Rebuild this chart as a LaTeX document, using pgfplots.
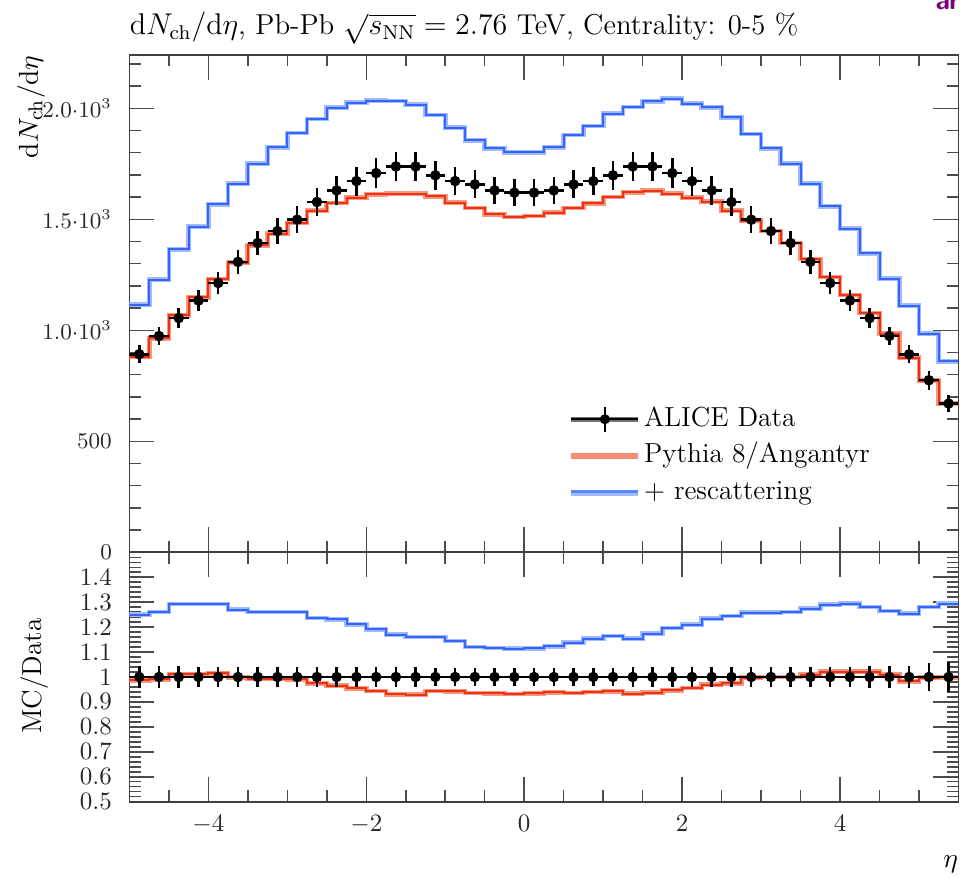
\documentclass[border=0pt]{standalone}
\usepackage{pgfplots}
\pgfplotsset{compat=1.18}
\usepackage{pgfplotstable}
\definecolor{mcred}{RGB}{238,51,17}
\definecolor{mcredlt}{RGB}{246,150,128}
\definecolor{mcblue}{RGB}{51,102,255}
\definecolor{mcbluelt}{RGB}{160,185,255}
\definecolor{arxivpurple}{RGB}{120,0,130}

\pgfplotstableread{
x y ex ey one re
-4.875 892 0.125 40 1 0.045
-4.625 974 0.125 42 1 0.043
-4.375 1055 0.125 45 1 0.043
-4.125 1134 0.125 48 1 0.042
-3.875 1213 0.125 50 1 0.041
-3.625 1308 0.125 53 1 0.041
-3.375 1393 0.125 56 1 0.040
-3.125 1447 0.125 58 1 0.040
-2.875 1498 0.125 60 1 0.040
-2.625 1578 0.125 62 1 0.039
-2.375 1630 0.125 64 1 0.039
-2.125 1672 0.125 65 1 0.039
-1.875 1708 0.125 66 1 0.039
-1.625 1738 0.125 67 1 0.039
-1.375 1738 0.125 67 1 0.039
-1.125 1698 0.125 65 1 0.038
-0.875 1672 0.125 64 1 0.038
-0.625 1657 0.125 63 1 0.038
-0.375 1630 0.125 62 1 0.038
-0.125 1620 0.125 62 1 0.038
0.125 1620 0.125 62 1 0.038
0.375 1630 0.125 62 1 0.038
0.625 1657 0.125 63 1 0.038
0.875 1672 0.125 64 1 0.038
1.125 1698 0.125 65 1 0.038
1.375 1738 0.125 67 1 0.039
1.625 1738 0.125 67 1 0.039
1.875 1708 0.125 66 1 0.039
2.125 1672 0.125 65 1 0.039
2.375 1630 0.125 64 1 0.039
2.625 1578 0.125 62 1 0.039
2.875 1498 0.125 60 1 0.040
3.125 1447 0.125 58 1 0.040
3.375 1393 0.125 56 1 0.040
3.625 1308 0.125 53 1 0.041
3.875 1213 0.125 50 1 0.041
4.125 1134 0.125 48 1 0.042
4.375 1055 0.125 45 1 0.043
4.625 974 0.125 42 1 0.043
4.875 892 0.125 40 1 0.045
5.125 775 0.125 43 1 0.055
5.375 670 0.125 40 1 0.060
}\datatab

\pgfplotstableread{
x red blue rr rb
-5.00 880 1115 0.986 1.250
-4.75 964 1228 0.990 1.261
-4.50 1068 1364 1.012 1.293
-4.25 1148 1466 1.012 1.293
-4.00 1231 1568 1.015 1.293
-3.75 1305 1661 0.998 1.270
-3.50 1382 1750 0.992 1.261
-3.25 1435 1825 0.992 1.261
-3.00 1483 1889 0.990 1.261
-2.75 1539 1952 0.975 1.237
-2.50 1573 2003 0.965 1.231
-2.25 1597 2025 0.955 1.211
-2.00 1612 2034 0.944 1.191
-1.75 1616 2033 0.930 1.170
-1.50 1615 2016 0.929 1.160
-1.25 1603 1970 0.944 1.160
-1.00 1575 1913 0.942 1.144
-0.75 1551 1856 0.936 1.120
-0.50 1522 1819 0.934 1.116
-0.25 1510 1801 0.932 1.113
0.00 1515 1802 0.935 1.115
0.25 1529 1825 0.938 1.123
0.50 1551 1880 0.936 1.138
0.75 1572 1920 0.940 1.154
1.00 1600 1976 0.942 1.164
1.25 1622 2006 0.933 1.154
1.50 1628 2032 0.937 1.174
1.75 1616 2043 0.946 1.196
2.00 1598 2020 0.956 1.210
2.25 1579 2004 0.969 1.234
2.50 1539 1960 0.975 1.245
2.75 1494 1884 0.997 1.258
3.00 1447 1820 1.000 1.258
3.25 1393 1750 1.000 1.261
3.50 1321 1660 1.010 1.274
3.75 1240 1558 1.022 1.290
4.00 1159 1458 1.022 1.294
4.25 1078 1347 1.022 1.281
4.50 984 1232 1.010 1.265
4.75 877 1110 0.983 1.254
5.00 773 985 0.997 1.281
5.25 669 860 0.998 1.294
5.50 669 860 0.998 1.294
}\mctab

\pgfplotsset{
  rivetaxis/.style={
    scale only axis,
    width=331.64pt,
    xmin=-5, xmax=5.5,
    xtick={-4,-2,0,2,4},
    minor xtick={-4.5,-3.5,-3,-2.5,-1.5,-1,-0.5,0.5,1,1.5,2.5,3,3.5,4.5,5},
    tick align=inside,
    xtick pos=both, ytick pos=both,
    major tick length=10pt,
    minor tick length=4.6pt,
    axis line style={line width=0.7pt, black!75},
    every tick/.style={line width=0.6pt, black!70},
    every minor tick/.style={line width=0.6pt, black!70},
    tick label style={font=\fontsize{10}{12}\selectfont, text=black!85},
    yticklabel style={xshift=-3.5pt},
    clip=true,
  },
  mcredband/.style={const plot mark left, mcredlt, line width=1.9pt, forget plot, no markers},
  mcredline/.style={const plot mark left, mcred, line width=0.8pt, forget plot, no markers},
  mcblueband/.style={const plot mark left, mcbluelt, line width=1.9pt, forget plot, no markers},
  mcblueline/.style={const plot mark left, mcblue, line width=0.8pt, forget plot, no markers},
  dataplot/.style={only marks, mark=*, mark size=1.9pt, black, forget plot,
    error bars/.cd, x dir=both, x explicit, y dir=both, y explicit,
    error mark=none, error bar style={line width=1pt, black}},
}

\begin{document}
\begin{tikzpicture}
\useasboundingbox (0,0) rectangle (384pt,351.2pt);

% ---------- upper panel ----------
\begin{axis}[rivetaxis,
  at={(51.76pt,130.28pt)}, anchor=south west,
  height=198.92pt,
  ymin=0, ymax=2240,
  ytick={0,500,1000,1500,2000},
  yticklabels={$0$,$500$,$1.0{\cdot}10^{3}$,$1.5{\cdot}10^{3}$,$2.0{\cdot}10^{3}$},
  yticklabel style={font=\fontsize{9}{11}\selectfont},
  minor ytick={100,200,...,2200},
  xticklabels={},
  legend style={at={(rel axis cs:0.528,0.300)}, anchor=north west,
    draw=none, fill=none, font=\fontsize{11}{13}\selectfont,
    row sep=2.2pt, inner sep=0pt,
    nodes={inner sep=1pt, text height=8pt, text depth=2.5pt}},
  legend cell align=left,
]
\addlegendimage{legend image code/.code={
  \draw[black!55, line width=2pt] (0pt,0pt) -- (27pt,0pt);
  \draw[black, line width=0.8pt] (0pt,0pt) -- (27pt,0pt);
  \draw[black, line width=1pt] (13.6pt,-5pt) -- (13.6pt,5pt);
  \fill[black] (13.6pt,0pt) circle (1.8pt);}}
\addlegendentry{ALICE Data}
\addlegendimage{legend image code/.code={
  \draw[mcredlt!90!mcred, line width=2.6pt] (0pt,0pt) -- (27pt,0pt);}}
\addlegendentry{Pythia 8/Angantyr}
\addlegendimage{legend image code/.code={
  \draw[mcbluelt, line width=1.6pt] (0pt,-0.6pt) -- (27pt,-0.6pt);
  \draw[mcblue!80, line width=0.9pt] (0pt,0.5pt) -- (27pt,0.5pt);}}
\addlegendentry{+ rescattering}

\addplot[mcblueband] table[x=x, y=blue] {\mctab};
\addplot[mcblueline] table[x=x, y=blue] {\mctab};
\addplot[mcredband] table[x=x, y=red] {\mctab};
\addplot[mcredline] table[x=x, y=red] {\mctab};
\addplot[dataplot] table[x=x, y=y, x error=ex, y error=ey] {\datatab};
\end{axis}

% ---------- ratio panel ----------
\begin{axis}[rivetaxis,
  at={(51.76pt,30.52pt)}, anchor=south west,
  height=99.76pt,
  ymin=0.5, ymax=1.5,
  ytick={0.5,0.6,0.7,0.8,0.9,1,1.1,1.2,1.3,1.4},
  yticklabels={$0.5$,$0.6$,$0.7$,$0.8$,$0.9$,$1$,$1.1$,$1.2$,$1.3$,$1.4$},
  minor ytick={0.52,0.54,0.56,0.58,0.62,0.64,0.66,0.68,0.72,0.74,0.76,0.78,0.82,0.84,0.86,0.88,0.92,0.94,0.96,0.98,1.02,1.04,1.06,1.08,1.12,1.14,1.16,1.18,1.22,1.24,1.26,1.28,1.32,1.34,1.36,1.38,1.42,1.44,1.46,1.48},
  xticklabels={$-4$,$-2$,$0$,$2$,$4$},
  xticklabel style={yshift=-2pt},
]
\addplot[mcblueband] table[x=x, y=rb] {\mctab};
\addplot[mcblueline] table[x=x, y=rb] {\mctab};
\addplot[mcredband] table[x=x, y=rr] {\mctab};
\addplot[mcredline] table[x=x, y=rr] {\mctab};
\addplot[dataplot] table[x=x, y=one, x error=ex, y error=re] {\datatab};
\end{axis}

% ---------- texts ----------
\node[anchor=base west, inner sep=0pt, font=\fontsize{11.5}{14}\selectfont]
  at (51.76pt,337.2pt)
  {$\mathrm{d}N_{\mathrm{ch}}/\mathrm{d}\eta$, Pb-Pb $\sqrt{s_{\mathrm{NN}}}=2.76$ TeV, Centrality: 0-5 \%};
\node[anchor=base west, inner sep=0pt, font=\sffamily\bfseries\fontsize{11}{13}\selectfont, text=arxivpurple]
  at (374pt,347.2pt) {arXiv};
\node[rotate=90, anchor=east, inner sep=0pt, font=\fontsize{11}{13}\selectfont]
  at (12.4pt,329.2pt) {$\mathrm{d}N_{\mathrm{ch}}/\mathrm{d}\eta$};
\node[rotate=90, anchor=center, inner sep=0pt, font=\fontsize{11}{13}\selectfont]
  at (14pt,80.8pt) {MC/Data};
\node[anchor=base east, inner sep=0pt, font=\fontsize{11}{13}\selectfont]
  at (383.4pt,4pt) {$\eta$};
\end{tikzpicture}
\end{document}
